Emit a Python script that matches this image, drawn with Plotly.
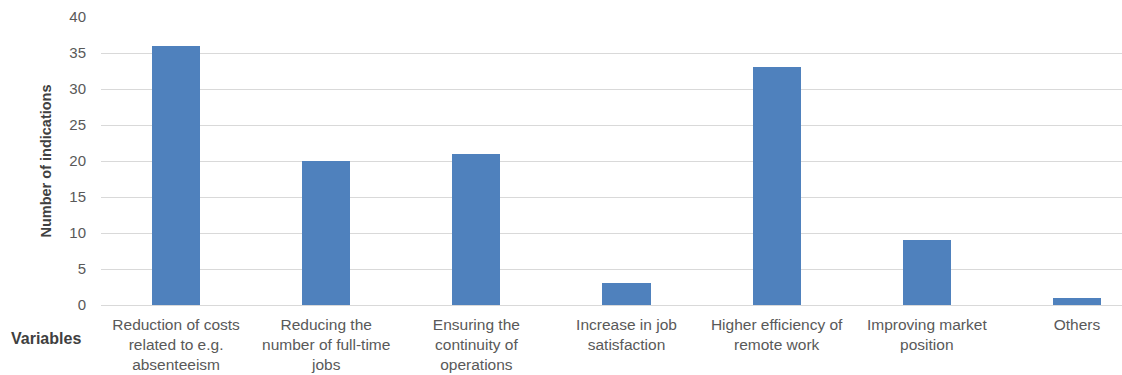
import plotly.graph_objects as go

categories = [
    "Reduction of costs<br>related to e.g.<br>absenteeism",
    "Reducing the<br>number of full-time<br>jobs",
    "Ensuring the<br>continuity of<br>operations",
    "Increase in job<br>satisfaction",
    "Higher efficiency of<br>remote work",
    "Improving market<br>position",
    "Others",
]
indications = [36, 20, 21, 3, 33, 9, 1]
y_ticks = [0, 5, 10, 15, 20, 25, 30, 35, 40]

positions = list(range(len(categories)))

fig = go.Figure(
    go.Bar(
        x=positions,
        y=indications,
        width=0.32,
        marker=dict(color="#4f81bd", line=dict(width=0)),
    )
)

font_family = "Liberation Sans, Arial, sans-serif"

fig.update_layout(
    width=1122,
    height=375,
    margin=dict(l=101, r=0, t=17, b=70),
    paper_bgcolor="white",
    plot_bgcolor="white",
    showlegend=False,
    font=dict(family=font_family, size=14, color="#595959"),
    bargap=0,
)

fig.update_xaxes(
    range=[-0.5, 6.3],
    tickvals=positions,
    ticktext=categories,
    showgrid=False,
    showline=True,
    linecolor="#d9d9d9",
    linewidth=1,
    ticks="",
    ticklabelstandoff=5,
    tickfont=dict(size=15.5, color="#595959"),
    zeroline=False,
)

fig.update_yaxes(
    range=[0, 40],
    tickvals=y_ticks,
    showgrid=True,
    gridcolor="#d9d9d9",
    gridwidth=1,
    zeroline=False,
    showline=False,
    ticks="",
    ticklabelstandoff=14,
    tickfont=dict(size=15, color="#595959"),
    title=dict(
        text="<b>Number of indications</b>",
        font=dict(size=14.5, color="#404040"),
        standoff=14,
    ),
)

fig.add_annotation(
    text="<b>Variables</b>",
    xref="paper",
    yref="paper",
    x=-101 / 1021,
    y=-0.116,
    xanchor="left",
    yanchor="middle",
    xshift=9,
    showarrow=False,
    font=dict(size=16, color="#404040", family=font_family),
)

fig.write_html("out.html")
